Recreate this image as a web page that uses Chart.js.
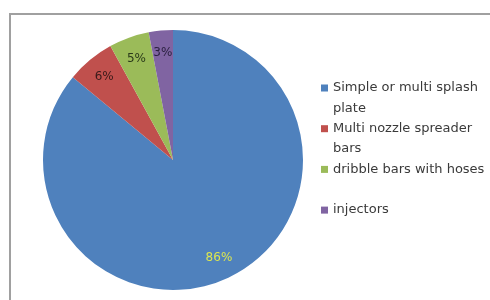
<!DOCTYPE html>
<html>
<head>
<meta charset="utf-8">
<script src="https://cdn.jsdelivr.net/npm/chart.js@4"></script>
<style>
  body { margin: 0; background: #fff; }
  #wrap { position: relative; width: 490px; height: 300px; }
  #frame { position: absolute; left: 9px; top: 13px; right: 0; bottom: 0;
           border-left: 2px solid #a0a0a0; border-top: 2px solid #a0a0a0; }
  canvas { position: absolute; left: 0; top: 0; }
</style>
</head>
<body>
<div id="wrap">
  <div id="frame"></div>
  <canvas id="pie" width="490" height="300"></canvas>
</div>
<script>
const categories = ['Simple or multi splash plate', 'Multi nozzle spreader bars', 'dribble bars with hoses', 'injectors'];
const shares = [86, 6, 5, 3];
const sliceColors = ['#4f81bd', '#c0504d', '#9bbb59', '#8064a2'];
const labelColors = ['#dce650', '#3a1a1a', '#2a3a1a', '#2a2040'];

const FONT = '"DejaVu Sans", sans-serif';

// percent labels inside the slices
const sliceLabels = {
    id: 'sliceLabels',
    afterDatasetsDraw(chart) {
        const ctx = chart.ctx;
        const meta = chart.getDatasetMeta(0);
        ctx.save();
        ctx.font = '12px ' + FONT;
        ctx.textAlign = 'center';
        ctx.textBaseline = 'middle';
        meta.data.forEach((arc, i) => {
            const mid = (arc.startAngle + arc.endAngle) / 2;
            const r = arc.outerRadius * 0.83;
            const x = arc.x + Math.cos(mid) * r;
            const y = arc.y + Math.sin(mid) * r;
            ctx.fillStyle = labelColors[i];
            ctx.fillText(shares[i] + '%', x, y);
        });
        ctx.restore();
    }
};

// legend on the right, wrapped like the original
const sideLegend = {
    id: 'sideLegend',
    afterDraw(chart) {
        const ctx = chart.ctx;
        const left = 321, top = 88, itemStep = 40.7, lineH = 20.3, maxW = 160;
        ctx.save();
        ctx.font = '13px ' + FONT;
        ctx.textBaseline = 'middle';
        categories.forEach((label, i) => {
            const words = label.split(' ');
            const lines = [];
            let cur = '';
            words.forEach(w => {
                const test = cur ? cur + ' ' + w : w;
                if (ctx.measureText(test).width > maxW && cur) {
                    lines.push(cur);
                    cur = w;
                } else {
                    cur = test;
                }
            });
            lines.push(cur);
            const y0 = top + i * itemStep;
            ctx.fillStyle = sliceColors[i];
            ctx.fillRect(left, y0 - 3.5, 7, 7);
            ctx.fillStyle = '#3a3a3a';
            lines.forEach((ln, j) => ctx.fillText(ln, left + 12, y0 + j * lineH));
        });
        ctx.restore();
    }
};

new Chart(document.getElementById('pie'), {
    type: 'pie',
    data: {
        labels: categories,
        datasets: [{
            data: shares,
            backgroundColor: sliceColors,
            borderWidth: 0
        }]
    },
    options: {
        responsive: false,
        animation: false,
        layout: { padding: { left: 43, right: 187, top: 30, bottom: 10 } },
        plugins: {
            legend: { display: false },
            tooltip: { enabled: false }
        }
    },
    plugins: [sliceLabels, sideLegend]
});
</script>
</body>
</html>
